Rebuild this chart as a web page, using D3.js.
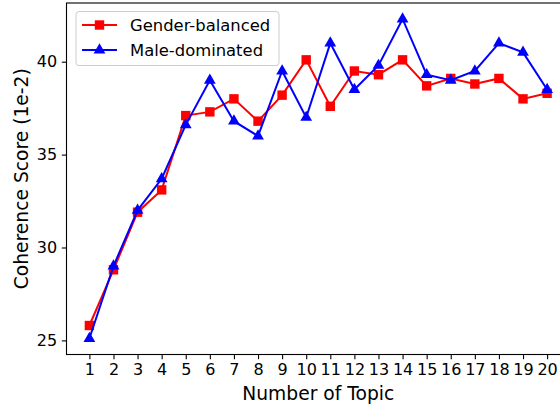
<!DOCTYPE html>
<html>
<head>
<meta charset="utf-8">
<script src="https://cdn.jsdelivr.net/npm/d3@7"></script>
<style>
  body { margin: 0; background: #fff; }
  svg { display: block; font-family: 'DejaVu Sans', sans-serif; }
</style>
</head>
<body>
<div id="chart"></div>
<script>
// chart data
var topics = d3.range(1, 21);
var genderBalanced = [25.8, 28.8, 31.9, 33.1, 37.1, 37.3, 38.0, 36.8, 38.2, 40.1,
                      37.6, 39.5, 39.3, 40.1, 38.7, 39.1, 38.8, 39.1, 38.0, 38.3];
var maleDominated = [25.1, 29.0, 32.0, 33.7, 36.6, 39.0, 36.8, 36.0, 39.5, 37.0,
                     41.0, 38.5, 39.8, 42.3, 39.3, 39.0, 39.5, 41.0, 40.5, 38.5];
var yTicks = [25, 30, 35, 40];
var seriesNames = ["Gender-balanced", "Male-dominated"];

var width = 560, height = 404;
var plot = { left: 66.5, right: 570, top: 3, bottom: 354.5 };

var svg = d3.select("#chart")
    .append("svg")
    .attr("width", width)
    .attr("height", height);

var x = d3.scaleLinear().domain([0.05, 20.95]).range([plot.left, plot.right]);
var y = d3.scaleLinear().domain([24.24, 43.16]).range([plot.bottom, plot.top]);

// x axis
var xAxis = svg.append("g")
    .attr("transform", "translate(0," + plot.bottom + ")")
    .call(d3.axisBottom(x).tickValues(topics).tickFormat(d3.format("d"))
        .tickSize(4.7).tickPadding(4.7).tickSizeOuter(0));
xAxis.select(".domain").remove();
xAxis.selectAll("line").attr("stroke", "#000").attr("stroke-width", 1.1);
xAxis.selectAll("text")
    .attr("fill", "#000")
    .style("font-size", "16px")
    .style("font-family", "'DejaVu Sans', sans-serif");

// y axis
var yAxis = svg.append("g")
    .attr("transform", "translate(" + plot.left + ",0)")
    .call(d3.axisLeft(y).tickValues(yTicks).tickFormat(d3.format("d"))
        .tickSize(4.7).tickPadding(4.7).tickSizeOuter(0));
yAxis.select(".domain").remove();
yAxis.selectAll("line").attr("stroke", "#000").attr("stroke-width", 1.1);
yAxis.selectAll("text")
    .attr("fill", "#000")
    .style("font-size", "16px")
    .style("font-family", "'DejaVu Sans', sans-serif");

// frame
svg.append("rect")
    .attr("x", plot.left)
    .attr("y", plot.top)
    .attr("width", plot.right - plot.left)
    .attr("height", plot.bottom - plot.top)
    .attr("fill", "none")
    .attr("stroke", "#000")
    .attr("stroke-width", 1.1);

// axis labels
svg.append("text")
    .attr("x", (plot.left + plot.right) / 2)
    .attr("y", 400)
    .attr("text-anchor", "middle")
    .style("font-size", "18.7px")
    .text("Number of Topic");

svg.append("text")
    .attr("transform", "translate(28," + (plot.top + plot.bottom) / 2 + ") rotate(-90)")
    .attr("text-anchor", "middle")
    .style("font-size", "18.7px")
    .text("Coherence Score (1e-2)");

var line = d3.line()
    .x(function (d, i) { return x(topics[i]); })
    .y(function (d) { return y(d); });

var tri = d3.symbol().type(d3.symbolTriangle).size(60);

function drawSeries(data, color, marker) {
    svg.append("path")
        .datum(data)
        .attr("fill", "none")
        .attr("stroke", color)
        .attr("stroke-width", 2)
        .attr("d", line);
    if (marker === "square") {
        svg.selectAll(null)
            .data(data)
            .enter().append("rect")
            .attr("x", function (d, i) { return x(topics[i]) - 4.7; })
            .attr("y", function (d) { return y(d) - 4.7; })
            .attr("width", 9.4)
            .attr("height", 9.4)
            .attr("fill", color);
    } else {
        svg.selectAll(null)
            .data(data)
            .enter().append("path")
            .attr("transform", function (d, i) { return "translate(" + x(topics[i]) + "," + y(d) + ")"; })
            .attr("d", tri)
            .attr("fill", color);
    }
}

drawSeries(genderBalanced, "#ff0000", "square");
drawSeries(maleDominated, "#0000ff", "triangle");

// legend
var legend = svg.append("g");
legend.append("rect")
    .attr("x", 76)
    .attr("y", 11.5)
    .attr("width", 203)
    .attr("height", 54)
    .attr("rx", 3)
    .attr("fill", "#fff")
    .attr("fill-opacity", 0.8)
    .attr("stroke", "#cccccc")
    .attr("stroke-width", 1);

var legendItems = [
    { name: seriesNames[0], color: "#ff0000", marker: "square", y: 25 },
    { name: seriesNames[1], color: "#0000ff", marker: "triangle", y: 50 }
];
legendItems.forEach(function (item) {
    legend.append("line")
        .attr("x1", 82).attr("x2", 117)
        .attr("y1", item.y).attr("y2", item.y)
        .attr("stroke", item.color)
        .attr("stroke-width", 2);
    if (item.marker === "square") {
        legend.append("rect")
            .attr("x", 99.5 - 4.7).attr("y", item.y - 4.7)
            .attr("width", 9.4).attr("height", 9.4)
            .attr("fill", item.color);
    } else {
        legend.append("path")
            .attr("transform", "translate(99.5," + item.y + ")")
            .attr("d", tri)
            .attr("fill", item.color);
    }
    legend.append("text")
        .attr("x", 130)
        .attr("y", item.y)
        .attr("dy", "0.36em")
        .style("font-size", "16.4px")
        .text(item.name);
});
</script>
</body>
</html>
